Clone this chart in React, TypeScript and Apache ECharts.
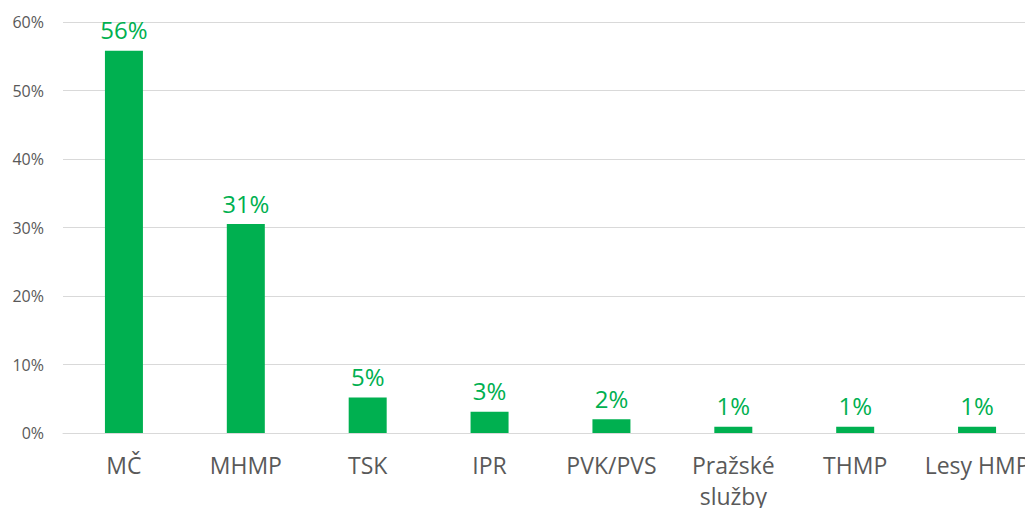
import React, { useEffect, useRef } from "react";
import * as echarts from "echarts";

const categories = ["MČ", "MHMP", "TSK", "IPR", "PVK/PVS", "Pražské\nslužby", "THMP", "Lesy HMP"];
const values = [55.8, 30.5, 5.2, 3.1, 2.0, 0.9, 0.9, 0.9];
const labels = ["56%", "31%", "5%", "3%", "2%", "1%", "1%", "1%"];
const yTicks = { min: 0, max: 60, interval: 10 };

export default function App() {
  const ref = useRef<HTMLDivElement>(null);
  useEffect(() => {
    document.body.style.margin = "0";
    const chart = echarts.init(ref.current!, null, { renderer: "svg" });
    chart.setOption({
      animation: false,
      textStyle: { fontFamily: "'Open Sans', sans-serif" },
      grid: {
        left: 63,
        width: 975,
        top: 22,
        height: 411,
        containLabel: false,
        outerBoundsMode: "none",
      },
      xAxis: {
        type: "category",
        data: categories,
        axisLine: { show: true, lineStyle: { color: "#D9D9D9", width: 1 } },
        axisTick: { show: false },
        axisLabel: {
          color: "#595959",
          fontSize: 23,
          margin: 16,
          lineHeight: 31,
          interval: 0,
          fontFamily: "'Open Sans', sans-serif",
        },
      },
      yAxis: {
        type: "value",
        min: yTicks.min,
        max: yTicks.max,
        interval: yTicks.interval,
        axisLine: { show: false },
        axisTick: { show: false },
        splitLine: { lineStyle: { color: "#D9D9D9", width: 1 } },
        axisLabel: {
          color: "#595959",
          fontSize: 16,
          margin: 19,
          formatter: (v: number) => v + "%",
          fontFamily: "'Open Sans', sans-serif",
        },
      },
      series: [
        {
          type: "bar",
          data: values,
          barWidth: 38,
          itemStyle: { color: "#00B050" },
          label: {
            show: true,
            position: "top",
            distance: 9,
            color: "#00B050",
            fontSize: 24,
            fontFamily: "'Open Sans', sans-serif",
            formatter: (p: any) => labels[p.dataIndex],
          },
        },
      ],
    });
    return () => chart.dispose();
  }, []);
  return <div ref={ref} style={{ width: 1025, height: 508 }} />;
}
